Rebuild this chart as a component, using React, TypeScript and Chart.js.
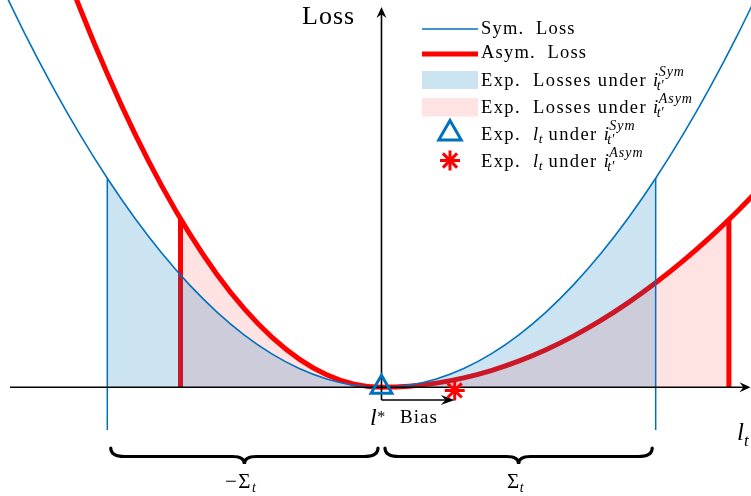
import React, { useEffect, useRef } from 'react';
import { Chart, registerables } from 'chart.js';

Chart.register(...registerables);

// ---------------- data ----------------
const LOSS_X = [-1.4, -1.3, -1.2, -1.1, -1.0, -0.9, -0.8, -0.7, -0.6, -0.5, -0.4, -0.3, -0.2, -0.1, 0, 0.1, 0.2, 0.3, 0.4, 0.5, 0.6, 0.7, 0.8, 0.9, 1.0, 1.1, 1.2, 1.3, 1.4];
const SYM_LOSS = [1.96, 1.69, 1.44, 1.21, 1.0, 0.81, 0.64, 0.49, 0.36, 0.25, 0.16, 0.09, 0.04, 0.01, 0, 0.01, 0.04, 0.09, 0.16, 0.25, 0.36, 0.49, 0.64, 0.81, 1.0, 1.21, 1.44, 1.69, 1.96];
const ASYM_LOSS = [2.94, 2.535, 2.16, 1.815, 1.5, 1.215, 0.96, 0.735, 0.54, 0.375, 0.24, 0.135, 0.06, 0.015, 0, 0.005, 0.02, 0.045, 0.08, 0.125, 0.18, 0.245, 0.32, 0.405, 0.5, 0.605, 0.72, 0.845, 0.98];

// expected-loss region under the symmetric forecast: [-Sigma, +Sigma]
const SYM_SHADE_X = [-1.0, -0.9, -0.8, -0.7, -0.6, -0.5, -0.4, -0.3, -0.2, -0.1, 0, 0.1, 0.2, 0.3, 0.4, 0.5, 0.6, 0.7, 0.8, 0.9, 1.0];
const SYM_SHADE_Y = [1.0, 0.81, 0.64, 0.49, 0.36, 0.25, 0.16, 0.09, 0.04, 0.01, 0, 0.01, 0.04, 0.09, 0.16, 0.25, 0.36, 0.49, 0.64, 0.81, 1.0];

// expected-loss region under the asymmetric forecast: [Bias - Sigma, Bias + Sigma]
const ASYM_SHADE_X = [-0.733, -0.7, -0.6, -0.5, -0.4, -0.3, -0.2, -0.1, 0, 0.1, 0.2, 0.3, 0.4, 0.5, 0.6, 0.7, 0.8, 0.9, 1.0, 1.1, 1.2, 1.267];
const ASYM_SHADE_Y = [0.806, 0.735, 0.54, 0.375, 0.24, 0.135, 0.06, 0.015, 0, 0.005, 0.02, 0.045, 0.08, 0.125, 0.18, 0.245, 0.32, 0.405, 0.5, 0.605, 0.72, 0.803];

const SIGMA_EDGES_X = [-1.0, 1.0];
const SIGMA_EDGES_TOP = [1.0, 1.0];
const SIGMA_EDGE_BOTTOM = -0.204;

const BIAS = 0.267;
const SYM_EXPECTED = [{ x: 0, y: 0 }];
const ASYM_EXPECTED = [{ x: 0.267, y: -0.015 }];

const X_MIN = -1.3913;
const X_MAX = 1.3476;
const Y_MIN = -0.5201;
const Y_MAX = 1.8531;

// ---------------- styles ----------------
const BLUE = '#0072BD';
const RED = '#FF0000';
const BLUE_FILL = 'rgba(0,114,189,0.2)';
const PINK_FILL = 'rgba(255,0,0,0.115)';
const SERIF = '"Liberation Serif", "Times New Roman", serif';

const zip = (xs: number[], ys: number[]) => xs.map((x, i) => ({ x, y: ys[i] }));

function setLS(ctx: CanvasRenderingContext2D, px: number) {
  (ctx as any).letterSpacing = px + 'px';
}

function txt(ctx: CanvasRenderingContext2D, s: string, x: number, y: number, font: string, ls = 1) {
  ctx.font = font;
  setLS(ctx, ls);
  ctx.fillText(s, x, y);
  const w = ctx.measureText(s).width;
  return x + w;
}

function arrowHead(ctx: CanvasRenderingContext2D, tx: number, ty: number, ang: number, len = 11, half = 5) {
  ctx.save();
  ctx.translate(tx, ty);
  ctx.rotate(ang);
  ctx.beginPath();
  ctx.moveTo(0, 0);
  ctx.lineTo(-len, -half);
  ctx.lineTo(-len * 0.65, 0);
  ctx.lineTo(-len, half);
  ctx.closePath();
  ctx.fill();
  ctx.restore();
}

function brace(ctx: CanvasRenderingContext2D, x1: number, x2: number, yTop: number, yBar: number, yTip: number) {
  const mid = (x1 + x2) / 2;
  const r = 14;
  const rc = 12;
  ctx.beginPath();
  ctx.moveTo(x1, yTop);
  ctx.quadraticCurveTo(x1, yBar, x1 + r, yBar);
  ctx.lineTo(mid - rc, yBar);
  ctx.quadraticCurveTo(mid, yBar, mid, yTip);
  ctx.quadraticCurveTo(mid, yBar, mid + rc, yBar);
  ctx.lineTo(x2 - r, yBar);
  ctx.quadraticCurveTo(x2, yBar, x2, yTop);
  ctx.stroke();
}

function drawAxes(chart: Chart) {
  const ctx = chart.ctx;
  const xs = chart.scales.x;
  const ys = chart.scales.y;
  const x0 = xs.getPixelForValue(0);
  const y0 = ys.getPixelForValue(0);
  const xb = xs.getPixelForValue(BIAS);
  ctx.save();
  ctx.strokeStyle = '#000';
  ctx.fillStyle = '#000';
  ctx.lineWidth = 1.6;
  ctx.beginPath();
  ctx.moveTo(10, y0);
  ctx.lineTo(744, y0);
  ctx.stroke();
  arrowHead(ctx, 750.5, y0, 0);
  ctx.beginPath();
  ctx.moveTo(x0, 400);
  ctx.lineTo(x0, 13);
  ctx.stroke();
  arrowHead(ctx, x0, 7, -Math.PI / 2);
  ctx.beginPath();
  ctx.moveTo(x0, 400);
  ctx.lineTo(xb - 6, 400);
  ctx.stroke();
  arrowHead(ctx, xb, 400, 0, 14, 5);
  ctx.restore();
}

function iSupSub(ctx: CanvasRenderingContext2D, x: number, y: number, sup: string) {
  const IT = `italic 18.5px ${SERIF}`;
  const SM = `italic 14px ${SERIF}`;
  x = txt(ctx, 'i', x, y, IT, 0);
  const a = txt(ctx, sup, x + 0.5, y - 10, SM, 1);
  const b = txt(ctx, 't\u2032', x - 1.5, y + 4, SM, 0);
  return Math.max(a, b);
}

function drawLegendAndLabels(chart: Chart) {
  const ctx = chart.ctx;
  const xs = chart.scales.x;
  const x0 = xs.getPixelForValue(0);
  const MAIN = `18.5px ${SERIF}`;
  const IT = `italic 18.5px ${SERIF}`;
  const SM = `italic 13.5px ${SERIF}`;
  ctx.save();
  ctx.textBaseline = 'alphabetic';
  ctx.textAlign = 'left';

  // legend swatches
  ctx.strokeStyle = BLUE;
  ctx.lineWidth = 1.6;
  ctx.beginPath();
  ctx.moveTo(422, 29);
  ctx.lineTo(478, 29);
  ctx.stroke();
  ctx.strokeStyle = RED;
  ctx.lineWidth = 5;
  ctx.beginPath();
  ctx.moveTo(422, 54);
  ctx.lineTo(478, 54);
  ctx.stroke();
  ctx.fillStyle = BLUE_FILL;
  ctx.fillRect(422, 71, 56, 18);
  ctx.fillStyle = PINK_FILL;
  ctx.fillRect(422, 98, 56, 18.5);
  // triangle
  ctx.strokeStyle = BLUE;
  ctx.lineWidth = 3;
  ctx.lineJoin = 'miter';
  const tr = 13;
  const tcx = 450, tcy = 133.5;
  ctx.beginPath();
  for (let k = 0; k < 3; k++) {
    const a = (k * 2 * Math.PI) / 3;
    const px = tcx + Math.sin(a) * tr;
    const py = tcy - Math.cos(a) * tr;
    if (k === 0) ctx.moveTo(px, py);
    else ctx.lineTo(px, py);
  }
  ctx.closePath();
  ctx.stroke();
  // star
  ctx.strokeStyle = RED;
  ctx.lineWidth = 3;
  ctx.lineCap = 'butt';
  for (let k = 0; k < 4; k++) {
    const a = (k * Math.PI) / 4;
    ctx.beginPath();
    ctx.moveTo(450 - Math.cos(a) * 10, 160.5 - Math.sin(a) * 10);
    ctx.lineTo(450 + Math.cos(a) * 10, 160.5 + Math.sin(a) * 10);
    ctx.stroke();
  }

  // legend text
  ctx.fillStyle = '#000';
  txt(ctx, 'Sym.  Loss', 481, 34, MAIN, 1.2);
  txt(ctx, 'Asym.  Loss', 481, 58, MAIN, 1.2);
  let x = txt(ctx, 'Exp.  Losses under ', 481, 86, MAIN, 1.4);
  iSupSub(ctx, x, 86, 'Sym');
  x = txt(ctx, 'Exp.  Losses under ', 481, 113, MAIN, 1.4);
  iSupSub(ctx, x, 113, 'Asym');
  x = txt(ctx, 'Exp.  ', 481, 140, MAIN, 1.4);
  x = txt(ctx, 'l', x, 140, IT, 0);
  x = txt(ctx, 't', x + 0.5, 143, SM, 0);
  x = txt(ctx, ' under ', x, 140, MAIN, 1.4);
  iSupSub(ctx, x, 140, 'Sym');
  x = txt(ctx, 'Exp.  ', 481, 167, MAIN, 1.4);
  x = txt(ctx, 'l', x, 167, IT, 0);
  x = txt(ctx, 't', x + 0.5, 170, SM, 0);
  x = txt(ctx, ' under ', x, 167, MAIN, 1.4);
  iSupSub(ctx, x, 167, 'Asym');

  // axis labels
  txt(ctx, 'Loss', 302, 24, `26px ${SERIF}`, 1);
  x = txt(ctx, 'l', 737, 440, `italic 25px ${SERIF}`, 0);
  txt(ctx, 't', x, 446, `italic 17px ${SERIF}`, 0);
  x = txt(ctx, 'l', 370, 425, `italic 24px ${SERIF}`, 0);
  txt(ctx, '*', x + 0.5, 422, `16px ${SERIF}`, 0);
  txt(ctx, 'Bias', 400, 423, `19px ${SERIF}`, 1);

  // braces
  const xl = xs.getPixelForValue(-1);
  const xr = xs.getPixelForValue(1);
  ctx.strokeStyle = '#000';
  ctx.lineWidth = 3.2;
  ctx.lineCap = 'round';
  brace(ctx, xl + 3.5, x0 - 3.5, 448, 456.5, 464);
  brace(ctx, x0 + 3.5, xr - 3.5, 448, 456.5, 464);

  x = txt(ctx, '\u2212\u03A3', 225, 488, `21px ${SERIF}`, 1.5);
  txt(ctx, 't', x, 492, `italic 14px ${SERIF}`, 0);
  x = txt(ctx, '\u03A3', 507, 488, `21px ${SERIF}`, 0);
  txt(ctx, 't', x + 0.5, 492, `italic 14px ${SERIF}`, 0);
  ctx.restore();
}

const overlayPlugin = {
  id: 'overlay',
  afterDatasetDraw(chart: Chart, args: any) {
    const ds: any = chart.data.datasets[args.index];
    if (ds && ds.label === 'edges') drawAxes(chart);
  },
  afterDraw(chart: Chart) {
    drawLegendAndLabels(chart);
  },
};

export default function App() {
  const ref = useRef<HTMLCanvasElement | null>(null);
  useEffect(() => {
    if (!ref.current) return;
    const edgeData: any[] = [];
    SIGMA_EDGES_X.forEach((ex, i) => {
      edgeData.push({ x: ex, y: SIGMA_EDGE_BOTTOM }, { x: ex, y: SIGMA_EDGES_TOP[i] }, { x: ex, y: null });
    });
    const nA = ASYM_SHADE_X.length;
    const redEdgeData: any[] = [
      { x: ASYM_SHADE_X[0], y: 0 },
      { x: ASYM_SHADE_X[0], y: ASYM_SHADE_Y[0] },
      { x: ASYM_SHADE_X[0], y: null },
      { x: ASYM_SHADE_X[nA - 1], y: 0 },
      { x: ASYM_SHADE_X[nA - 1], y: ASYM_SHADE_Y[nA - 1] },
    ];
    const chart = new Chart(ref.current, {
      type: 'line',
      data: {
        datasets: [
          {
            label: 'asymExp',
            data: ASYM_EXPECTED,
            showLine: false,
            pointStyle: 'star',
            pointRadius: 10,
            pointBorderWidth: 3,
            pointBorderColor: RED,
            pointBackgroundColor: RED,
            order: 0,
          } as any,
          {
            label: 'symExp',
            data: SYM_EXPECTED,
            showLine: false,
            pointStyle: 'triangle',
            pointRadius: 12,
            pointBorderWidth: 3,
            pointBorderColor: BLUE,
            pointBackgroundColor: 'rgba(0,0,0,0)',
            order: 1,
          },
          {
            label: 'edges',
            data: edgeData,
            borderColor: BLUE,
            borderWidth: 1.5,
            pointRadius: 0,
            spanGaps: false,
            fill: false,
            order: 2,
          },
          {
            label: 'Sym. Loss',
            data: zip(LOSS_X, SYM_LOSS),
            borderColor: BLUE,
            borderWidth: 1.6,
            pointRadius: 0,
            cubicInterpolationMode: 'monotone',
            fill: false,
            order: 3,
          },
          {
            label: 'symShade',
            data: zip(SYM_SHADE_X, SYM_SHADE_Y),
            borderColor: 'rgba(0,0,0,0)',
            borderWidth: 0,
            backgroundColor: BLUE_FILL,
            pointRadius: 0,
            cubicInterpolationMode: 'monotone',
            fill: 'origin',
            order: 4,
          },
          {
            label: 'Asym. Loss',
            data: zip(LOSS_X, ASYM_LOSS),
            borderColor: RED,
            borderWidth: 5,
            pointRadius: 0,
            cubicInterpolationMode: 'monotone',
            fill: false,
            order: 5,
          },
          {
            label: 'redEdges',
            data: redEdgeData,
            borderColor: RED,
            borderWidth: 5,
            pointRadius: 0,
            spanGaps: false,
            fill: false,
            borderCapStyle: 'butt',
            order: 6,
          },
          {
            label: 'asymShade',
            data: zip(ASYM_SHADE_X, ASYM_SHADE_Y),
            borderColor: 'rgba(0,0,0,0)',
            borderWidth: 0,
            backgroundColor: PINK_FILL,
            pointRadius: 0,
            cubicInterpolationMode: 'monotone',
            fill: 'origin',
            order: 7,
          },
        ],
      },
      options: {
        responsive: false,
        animation: false,
        events: [],
        layout: { padding: 0, autoPadding: false },
        plugins: {
          legend: { display: false },
          tooltip: { enabled: false },
          title: { display: false },
        },
        scales: {
          x: { type: 'linear', min: X_MIN, max: X_MAX, display: false },
          y: { type: 'linear', min: Y_MIN, max: Y_MAX, display: false },
        },
      },
      plugins: [overlayPlugin],
    });
    return () => chart.destroy();
  }, []);
  return (
    <div style={{ position: 'fixed', left: 0, top: 0, width: 751, height: 496, background: '#fff' }}>
      <canvas ref={ref} width={751} height={496} style={{ display: 'block', width: 751, height: 496 }} />
    </div>
  );
}
